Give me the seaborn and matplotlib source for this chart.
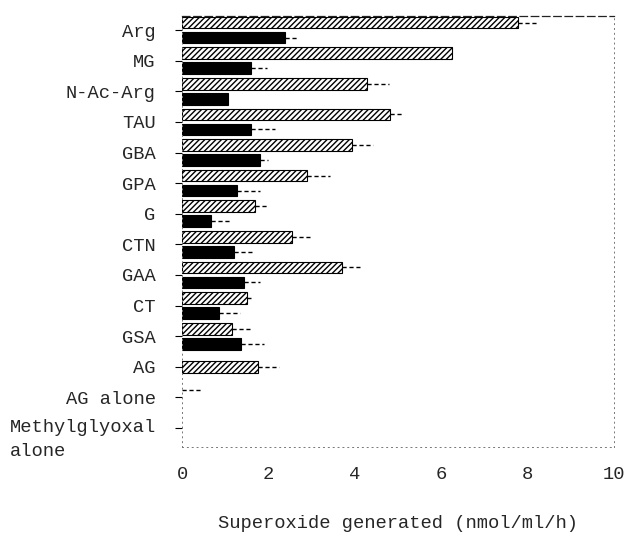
import numpy as np
import pandas as pd
import matplotlib
matplotlib.use("Agg")
import matplotlib.pyplot as plt
import matplotlib.transforms as mtransforms
import seaborn as sns

# Superoxide generated by each compound (two conditions per compound)
compounds = ["Arg", "MG", "N-Ac-Arg", "TAU", "GBA", "GPA", "G", "CTN",
             "GAA", "CT", "GSA", "AG", "AG alone", "Methylglyoxal\nalone"]
hatched_vals = [7.77, 6.24, 4.28, 4.81, 3.93, 2.89, 1.69, 2.54,
                3.70, 1.50, 1.16, 1.76, 0.0, 0.0]
hatched_err = [0.44, 0.0, 0.50, 0.30, 0.49, 0.53, 0.27, 0.42,
               0.42, 0.10, 0.42, 0.49, 0.45, 0.0]
solid_vals = [2.38, 1.60, 1.06, 1.60, 1.80, 1.27, 0.67, 1.20,
              1.43, 0.86, 1.36, np.nan, np.nan, np.nan]
solid_err = [0.30, 0.37, 0.0, 0.56, 0.20, 0.53, 0.44, 0.42,
             0.37, 0.49, 0.53, np.nan, np.nan, np.nan]
x_ticks = [0, 2, 4, 6, 8, 10]
x_label = "Superoxide generated (nmol/ml/h)"

df = pd.DataFrame({
    "compound": compounds * 2,
    "value": hatched_vals + solid_vals,
    "err": hatched_err + solid_err,
    "set": ["set1"] * len(compounds) + ["set2"] * len(compounds),
})

sns.set_style("white")
plt.rcParams["font.family"] = ["Liberation Mono", "DejaVu Sans Mono"]
plt.rcParams["hatch.linewidth"] = 1.0

fig = plt.figure(figsize=(6.24, 5.35), dpi=100)
ax = fig.add_axes([0.2917, 0.1645, 0.6923, 0.8056])

sns.barplot(data=df, y="compound", x="value", hue="set", orient="h",
            order=compounds, hue_order=["set1", "set2"],
            palette={"set1": "white", "set2": "black"},
            dodge=True, width=0.98, gap=0.22, errorbar=None,
            legend=False, ax=ax)

bar_sets = list(ax.containers)
ag_idx = compounds.index("AG")
for ci, cont in enumerate(bar_sets):
    for p in cont.patches:
        p.set_edgecolor("black")
        p.set_linewidth(0.8)
        if ci == 0:
            p.set_hatch("//////")
        if not np.isfinite(p.get_width()) or p.get_width() == 0:
            p.set_linewidth(0)
        # AG has only one bar, so it sits on the category centre
        yc = p.get_y() + p.get_height() / 2
        if ci == 0 and int(round(yc)) == ag_idx:
            p.set_y(ag_idx - p.get_height() / 2)

# one-sided error bars from the drawn bar geometry
for ci, cont in enumerate(bar_sets):
    sub = df[df["set"] == ("set1" if ci == 0 else "set2")].reset_index(drop=True)
    xs, ys, es = [], [], []
    for p in cont.patches:
        w = p.get_width()
        if not np.isfinite(w):
            continue
        yc = p.get_y() + p.get_height() / 2
        k = int(round(yc))
        e = sub.loc[k, "err"]
        if not np.isfinite(e) or e <= 0:
            continue
        xs.append(w)
        ys.append(yc)
        es.append(e)
    eb = ax.errorbar(xs, ys, xerr=[np.zeros(len(es)), es], fmt="none",
                     ecolor="black", elinewidth=1.0, capsize=0)
    for lc in eb.lines[2]:
        lc.set_linestyle((0, (3, 2)))

ax.set_xlim(0, 10)
ax.set_ylim(len(compounds) - 1 + 0.62, -0.46)
ax.set_xticks(x_ticks)
ax.set_xticklabels([str(t) for t in x_ticks])
ax.set_xlabel(x_label, fontsize=13.5, labelpad=23)
ax.set_ylabel("")

ax.tick_params(axis="x", length=0, pad=14, labelsize=13.5)
ax.tick_params(axis="y", length=5, width=0.8, pad=14, labelsize=13.5,
               color="black", direction="out", left=True)

# two-line label: first line level with its tick, second line below
shift_up = mtransforms.ScaledTranslation(0, 9 / 100, fig.dpi_scale_trans)
for lab in ax.get_yticklabels():
    if "\n" in lab.get_text():
        lab.set_multialignment("left")
        lab.set_verticalalignment("top")
        lab.set_linespacing(1.55)
        lab.set_transform(lab.get_transform() + shift_up)

# faint scanned-looking frame
for side in ["left", "bottom", "right"]:
    ax.spines[side].set_visible(True)
    ax.spines[side].set_color("#777777")
    ax.spines[side].set_linewidth(0.7)
    ax.spines[side].set_linestyle((0, (1, 4)))
ax.spines["top"].set_visible(True)
ax.spines["top"].set_color("#222222")
ax.spines["top"].set_linewidth(0.9)
ax.spines["top"].set_linestyle((0, (6, 3)))

fig.savefig("out.png", dpi=100)
